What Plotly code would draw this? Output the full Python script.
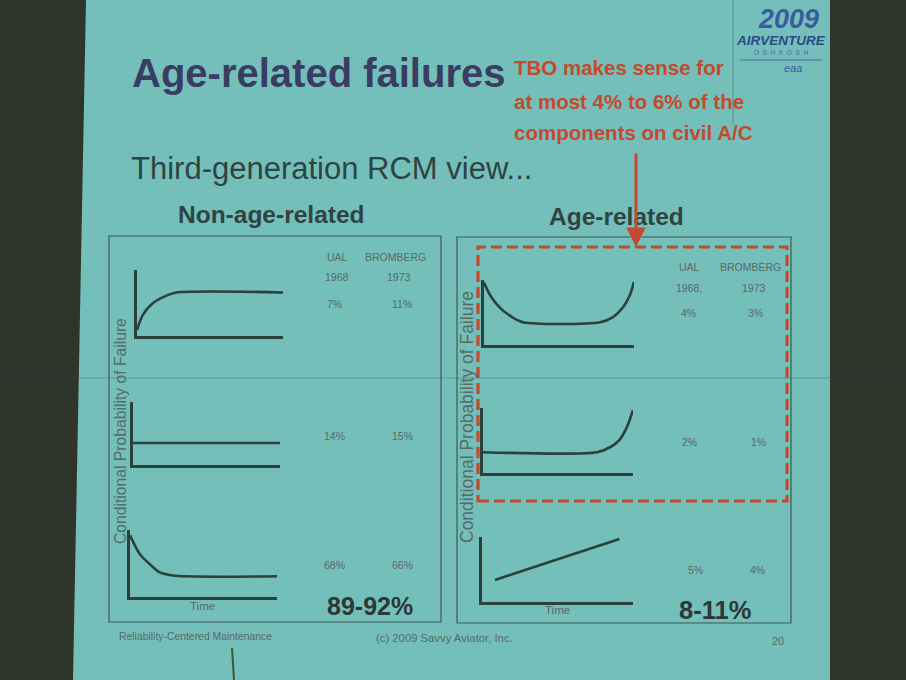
import plotly.graph_objects as go

W, H = 906, 680

# ---- data ----
panel_titles = ["Non-age-related", "Age-related"]
study_names = ["UAL", "BROMBERG"]
study_years_left = ["1968", "1973"]
study_years_right = ["1968,", "1973"]

ual_left = ["7%", "14%", "68%"]
bromberg_left = ["11%", "15%", "66%"]
ual_right = ["4%", "2%", "5%"]
bromberg_right = ["3%", "1%", "4%"]
totals = ["89-92%", "8-11%"]

# failure patterns: time (0..1) vs conditional probability of failure (0..1)
t_infant_rise = [0.0, 0.04, 0.11, 0.21, 0.27, 1.0]
p_infant_rise = [0.09, 0.32, 0.50, 0.62, 0.66, 0.66]

t_random = [0.0, 1.0]
p_random = [0.35, 0.35]

t_infant = [0.0, 0.07, 0.14, 0.20, 0.29, 1.0]
p_infant = [0.92, 0.63, 0.48, 0.37, 0.32, 0.31]

t_bathtub = [0.0, 0.04, 0.107, 0.187, 0.26, 0.773, 0.86, 0.927, 0.973, 1.0]
p_bathtub = [0.96, 0.77, 0.57, 0.43, 0.35, 0.35, 0.43, 0.58, 0.77, 0.97]

t_wearout = [0.0, 0.76, 0.85, 0.91, 0.96, 1.0]
p_wearout = [0.32, 0.32, 0.40, 0.51, 0.71, 0.97]

t_linear = [0.086, 0.91]
p_linear = [0.34, 0.97]

FONT = "Liberation Sans, Arial, sans-serif"

SLIDE = "#74bfba"
DARK = "#30352c"
INK = "#2c403e"
GREY = "#566a68"
RED = "#c44a2e"


def px(x):
    return x / W


def py(y):
    return 1 - y / H


fig = go.Figure()

# mini plots: (t, p, x0, x1, ytop, ybase)
minis = [
    (t_infant_rise, p_infant_rise, 137, 283, 270, 336),
    (t_random, p_random, 133, 280, 402, 465),
    (t_infant, p_infant, 130, 277, 530, 597),
    (t_bathtub, p_bathtub, 484, 634, 280, 345),
    (t_wearout, p_wearout, 483, 633, 408, 473),
    (t_linear, p_linear, 482, 633, 537, 602),
]

layout_axes = {}
for i, (t, p, x0, x1, yt, yb) in enumerate(minis, start=1):
    sfx = "" if i == 1 else str(i)
    fig.add_trace(go.Scatter(
        x=t, y=p, mode="lines", line=dict(color=INK, width=2.6, shape="spline", smoothing=0.8),
        xaxis="x" + sfx, yaxis="y" + sfx, hoverinfo="skip", showlegend=False,
    ))
    ax = dict(showgrid=False, zeroline=False, showticklabels=False, ticks="",
              showline=True, linecolor=INK, linewidth=2.6, fixedrange=True)
    layout_axes["xaxis" + sfx] = dict(ax, domain=[px(x0), px(x1)], range=[0, 1],
                                      anchor="y" + sfx)
    layout_axes["yaxis" + sfx] = dict(ax, domain=[py(yb), py(yt)], range=[0, 1],
                                      anchor="x" + sfx)

shapes = [
    # projected slide
    dict(type="path", xref="paper", yref="paper", layer="below",
         path=f"M {px(86)},{py(0)} L {px(830)},{py(0)} L {px(830)},{py(680)} L {px(73)},{py(680)} Z",
         fillcolor=SLIDE, line=dict(width=0)),
    # screen seam
    dict(type="line", xref="paper", yref="paper", x0=0, x1=1, y0=py(378), y1=py(378),
         line=dict(color="rgba(40,70,68,0.35)", width=1)),
    # logo divider
    dict(type="line", xref="paper", yref="paper", x0=px(733), x1=px(733), y0=py(0), y1=py(124),
         line=dict(color="rgba(60,90,90,0.5)", width=1)),
    dict(type="line", xref="paper", yref="paper", x0=px(740), x1=px(822), y0=py(60), y1=py(60),
         line=dict(color="#4a6aa0", width=1)),
    # panel boxes
    dict(type="rect", xref="paper", yref="paper", x0=px(109), x1=px(441), y0=py(622), y1=py(236),
         line=dict(color="#3d5a57", width=1.2)),
    dict(type="rect", xref="paper", yref="paper", x0=px(457), x1=px(791), y0=py(623), y1=py(237),
         line=dict(color="#3d5a57", width=1.2)),
    # TBO highlight
    dict(type="rect", xref="paper", yref="paper", x0=px(478), x1=px(787), y0=py(501), y1=py(247),
         line=dict(color=RED, width=3.2, dash="11px,5px")),
    # pointer stick
    dict(type="line", xref="paper", yref="paper", x0=px(232), x1=px(234), y0=py(648), y1=py(680),
         line=dict(color="#3a5a30", width=2)),
]

ann = []


def txt(x, y, s, size, color, xanchor="center", **kw):
    ann.append(dict(x=px(x), y=py(y), xref="paper", yref="paper", text=s, showarrow=False,
                    xanchor=xanchor, yanchor="middle",
                    font=dict(family=FONT, size=size, color=color), **kw))


txt(130, 73, "<b>Age-related failures</b>", 40, "#3a3d63", xanchor="left")
txt(512, 68, "<b>TBO makes sense for</b>", 20.5, RED, xanchor="left")
txt(512, 101, "<b>at most 4% to 6% of the</b>", 20.5, RED, xanchor="left")
txt(512, 133, "<b>components on civil A/C</b>", 20.5, RED, xanchor="left")
txt(129, 168, "Third-generation RCM view...", 31, "#2f4442", xanchor="left")
txt(271, 214, "<b>" + panel_titles[0] + "</b>", 24.5, "#2f4442")
txt(616, 216, "<b>" + panel_titles[1] + "</b>", 24.5, "#2f4442")

# logo
txt(788, 19, "<b><i>2009</i></b>", 27, "#3b5b9e")
txt(781, 40, "<b><i>AIRVENTURE</i></b>", 13.5, "#2d4a86")
txt(781, 53, "O  S  H  K  O  S  H", 6.5, "#4a6aa0")
txt(793, 68, "<i>eaa</i>", 11, "#3b5b9e")

# study headers
for (xu, xb, yn, yy, years) in [(337, 395, 257, 277, study_years_left),
                                 (689, 750, 267, 288, study_years_right)]:
    txt(xu, yn, study_names[0], 10.5, GREY)
    txt(xb, yn, study_names[1], 10.5, GREY)
    txt(xu, yy, years[0], 10.5, GREY)
    txt(xb + 4, yy, years[1], 10.5, GREY)

for yv, a, b in zip([304, 436, 565], ual_left, bromberg_left):
    txt(334, yv, a, 10.5, GREY)
    txt(402, yv, b, 10.5, GREY)
for yv, xa, xb, a, b in zip([313, 442, 570], [688, 689, 695], [755, 758, 757], ual_right, bromberg_right):
    txt(xa, yv, a, 10.5, GREY)
    txt(xb, yv, b, 10.5, GREY)

txt(370, 606, "<b>" + totals[0] + "</b>", 25, "#2c3836")
txt(715, 610, "<b>" + totals[1] + "</b>", 25.5, "#2c3836")

txt(202, 606, "Time", 11.5, GREY)
txt(557, 610, "Time", 11.5, GREY)

txt(120, 431, "Conditional Probability of Failure", 15.7, GREY, textangle=-90)
txt(467, 417, "Conditional Probability of Failure", 17.5, GREY, textangle=-90)

# footer
txt(117, 636, "Reliability-Centered Maintenance", 10.4, GREY, xanchor="left")
txt(444, 638, "(c) 2009 Savvy Aviator, Inc.", 11.3, GREY)
txt(778, 641, "20", 11, GREY)

# arrow to highlighted box
ann.append(dict(x=px(636), y=py(247), xref="paper", yref="paper", text="", showarrow=True,
                ax=0, ay=-95, arrowhead=2, arrowsize=1.3, arrowwidth=3, arrowcolor=RED))

fig.update_layout(
    width=W, height=H, margin=dict(l=0, r=0, t=0, b=0),
    paper_bgcolor=DARK, plot_bgcolor="rgba(0,0,0,0)",
    shapes=shapes, annotations=ann, showlegend=False,
    **layout_axes,
)

fig.write_html("out.html", config={"displayModeBar": False},
               post_script="document.body.style.margin='0';")
